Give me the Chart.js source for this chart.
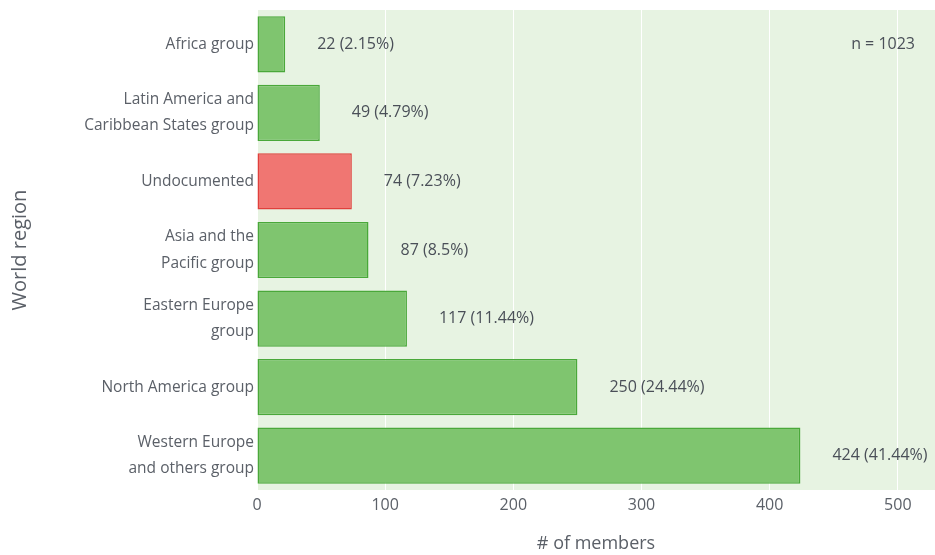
<!DOCTYPE html>
<html>
<head>
<meta charset="utf-8">
<script src="https://cdn.jsdelivr.net/npm/chart.js@4"></script>
<style>
  html, body { margin: 0; padding: 0; background: #fff; }
  #wrap { width: 935px; height: 555px; }
</style>
</head>
<body>
<div id="wrap"><canvas id="c"></canvas></div>
<script>
const regions = [
  "Africa group",
  ["Latin America and", "Caribbean States group"],
  "Undocumented",
  ["Asia and the", "Pacific group"],
  ["Eastern Europe", "group"],
  "North America group",
  ["Western Europe", "and others group"],
];
const members = [22, 49, 74, 87, 117, 250, 424];
const shares = ["2.15%", "4.79%", "7.23%", "8.5%", "11.44%", "24.44%", "41.44%"];
const undocumentedIdx = 2;
const totalN = 1023;
const xTicks = [0, 100, 200, 300, 400, 500];

const FONT = "'Open Sans', 'Noto Sans', sans-serif";
const TXT = "#4a4f58";
const AXIS = "#5b6068";

// plot background
const bgPlugin = {
  id: "bg",
  beforeDraw(chart) {
    const { ctx, chartArea: a } = chart;
    ctx.save();
    ctx.fillStyle = "#e7f3e2";
    ctx.fillRect(a.left, a.top, a.right - a.left, a.bottom - a.top);
    ctx.restore();
  },
};

// value labels beside the bars + "n = ..." note
const labelPlugin = {
  id: "vals",
  afterDatasetsDraw(chart) {
    const { ctx } = chart;
    const meta = chart.getDatasetMeta(0);
    ctx.save();
    ctx.font = "16px " + FONT;
    ctx.fillStyle = TXT;
    ctx.textBaseline = "middle";
    ctx.textAlign = "left";
    meta.data.forEach((bar, i) => {
      ctx.fillText(`${members[i]} (${shares[i]})`, bar.x + 32, bar.y);
    });
    const a = chart.chartArea;
    ctx.textAlign = "right";
    ctx.fillText(`n = ${totalN}`, a.right - 20, meta.data[0].y);
    ctx.restore();
  },
};

new Chart(document.getElementById("c"), {
  type: "bar",
  data: {
    labels: regions,
    datasets: [{
      data: members,
      backgroundColor: members.map((_, i) => i === undocumentedIdx ? "#f07672" : "#7fc56f"),
      borderColor: members.map((_, i) => i === undocumentedIdx ? "#e0403c" : "#4aa83a"),
      borderWidth: 1.5,
      borderSkipped: false,
      barPercentage: 0.82,
      categoryPercentage: 1,
    }],
  },
  options: {
    indexAxis: "y",
    responsive: true,
    maintainAspectRatio: false,
    animation: false,
    layout: { padding: { top: 10, right: 0, bottom: 0, left: 0 } },
    plugins: { legend: { display: false }, tooltip: { enabled: false } },
    scales: {
      x: {
        min: 0,
        max: 529,
        afterBuildTicks: (s) => { s.ticks = xTicks.map((v) => ({ value: v })); },
        afterFit: (s) => { s.height = 65; s.paddingLeft = 0; s.paddingRight = 0; },
        grid: { color: "#ffffff", lineWidth: 1, drawTicks: false },
        border: { display: false },
        ticks: { color: AXIS, font: { family: FONT, size: 16 }, padding: 6 },
        title: { display: true, text: "# of members", color: AXIS, font: { family: FONT, size: 18 }, padding: { top: 16, bottom: 0 } },
      },
      y: {
        afterFit: (s) => { s.width = 257; s.paddingTop = 0; s.paddingBottom = 0; },
        grid: { display: false, drawTicks: false },
        border: { display: false },
        ticks: { color: AXIS, font: { family: FONT, size: 15.5, lineHeight: 1.7 }, padding: 3, autoSkip: false },
        title: { display: true, text: "World region", color: AXIS, font: { family: FONT, size: 20 }, padding: { top: 8, bottom: 0 } },
      },
    },
  },
  plugins: [bgPlugin, labelPlugin],
});
</script>
</body>
</html>
